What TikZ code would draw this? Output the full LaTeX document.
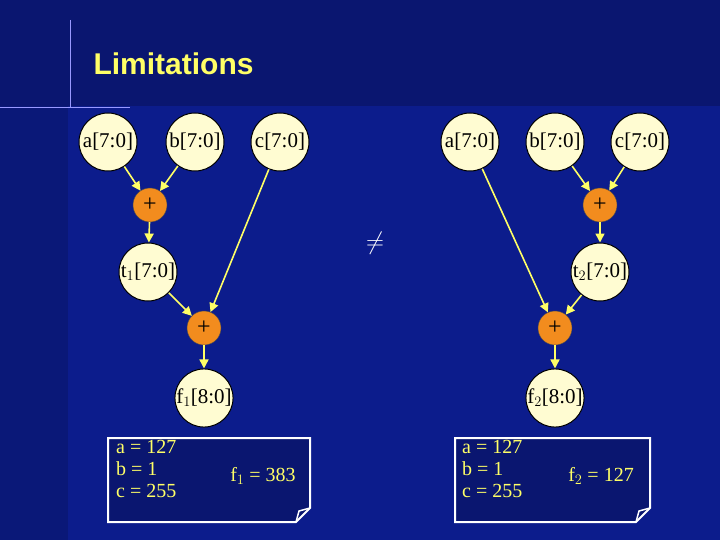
\documentclass[tikz,border=0pt]{standalone}
\usepackage{fontspec}
\setmainfont{Liberation Serif}
\newfontfamily\titlefont{Liberation Sans}
\usetikzlibrary{arrows.meta}
\definecolor{bgtop}{HTML}{0A1670}
\definecolor{bgmain}{HTML}{0C1C8C}
\definecolor{bgleft}{HTML}{0A1878}
\definecolor{cream}{HTML}{FFFCD2}
\definecolor{orng}{HTML}{F28C1E}
\definecolor{yel}{HTML}{FFFF66}
\begin{document}
\begin{tikzpicture}[x=1pt,y=-1pt,
  sig/.style={circle,draw=black,line width=1pt,fill=cream,minimum size=58pt,inner sep=0pt,font=\fontsize{21}{22}\selectfont},
  addr/.style={circle,draw=black!70,fill=orng,minimum size=34pt,inner sep=0pt,font=\fontsize{24}{24}\selectfont},
  con/.style={draw=yel,line width=1.6pt,-{Triangle[length=9pt,width=9pt]}},
  note/.style={draw=white,line width=2pt,fill=bgtop},
  ntxt/.style={text=yel,font=\fontsize{20}{22}\selectfont,align=left,anchor=north west,inner sep=0pt}]
\useasboundingbox (0,0) rectangle (720,540);
\fill[bgmain] (0,0) rectangle (720,540);
\fill[bgleft] (0,0) rectangle (68,540);
\fill[bgtop] (0,0) rectangle (720,106);
\draw[blue!40!white,line width=1pt] (0,108) -- (130,108);
\draw[blue!40!white,line width=1pt] (70,20) -- (70,108);
\node[anchor=west,text=yel,font=\titlefont\bfseries\fontsize{30}{32}\selectfont] (title) at (90,64) {Limitations};
% left
\node[sig] (a1) at (108,142) {a[7:0]};
\node[sig] (b1) at (195,142) {b[7:0]};
\node[sig] (c1) at (280,142) {c[7:0]};
\node[addr] (p1) at (150,205) {+};
\node[sig] (t1) at (148,272) {t$_1$[7:0]};
\node[addr] (p2) at (204,328) {+};
\node[sig] (f1) at (204,398) {f$_1$[8:0]};
\draw[con] (a1) -- (p1);
\draw[con] (b1) -- (p1);
\draw[con] (p1) -- (t1);
\draw[con] (t1) -- (p2);
\draw[con] (c1) -- (p2);
\draw[con] (p2) -- (f1);
% right
\node[sig] (a2) at (470,142) {a[7:0]};
\node[sig] (b2) at (555,142) {b[7:0]};
\node[sig] (c2) at (640,142) {c[7:0]};
\node[addr] (p3) at (600,205) {+};
\node[sig] (t2) at (600,272) {t$_2$[7:0]};
\node[addr] (p4) at (555,328) {+};
\node[sig] (f2) at (555,398) {f$_2$[8:0]};
\draw[con] (b2) -- (p3);
\draw[con] (c2) -- (p3);
\draw[con] (p3) -- (t2);
\draw[con] (t2) -- (p4);
\draw[con] (a2) -- (p4);
\draw[con] (p4) -- (f2);
\node[text=white,font=\fontsize{26}{26}\selectfont] (neq) at (375,243) {$\neq$};
% notes
\draw[note] (108,438) -- (310,438) -- (310,508) -- (296,522) -- (108,522) -- cycle;
\draw[white,line width=1.5pt] (296,522) -- (299,511) -- (310,508);
\node[ntxt] (n1) at (116,440) {a = 127\\b = 1\\c = 255};
\node[text=yel,font=\fontsize{20}{22}\selectfont] (r1) at (263,476) {f$_1$ = 383};
\draw[note] (455,438) -- (650,438) -- (650,508) -- (636,522) -- (455,522) -- cycle;
\draw[white,line width=1.5pt] (636,522) -- (639,511) -- (650,508);
\node[ntxt] (n2) at (462,440) {a = 127\\b = 1\\c = 255};
\node[text=yel,font=\fontsize{20}{22}\selectfont] (r2) at (601,476) {f$_2$ = 127};
\end{tikzpicture}
\end{document}
